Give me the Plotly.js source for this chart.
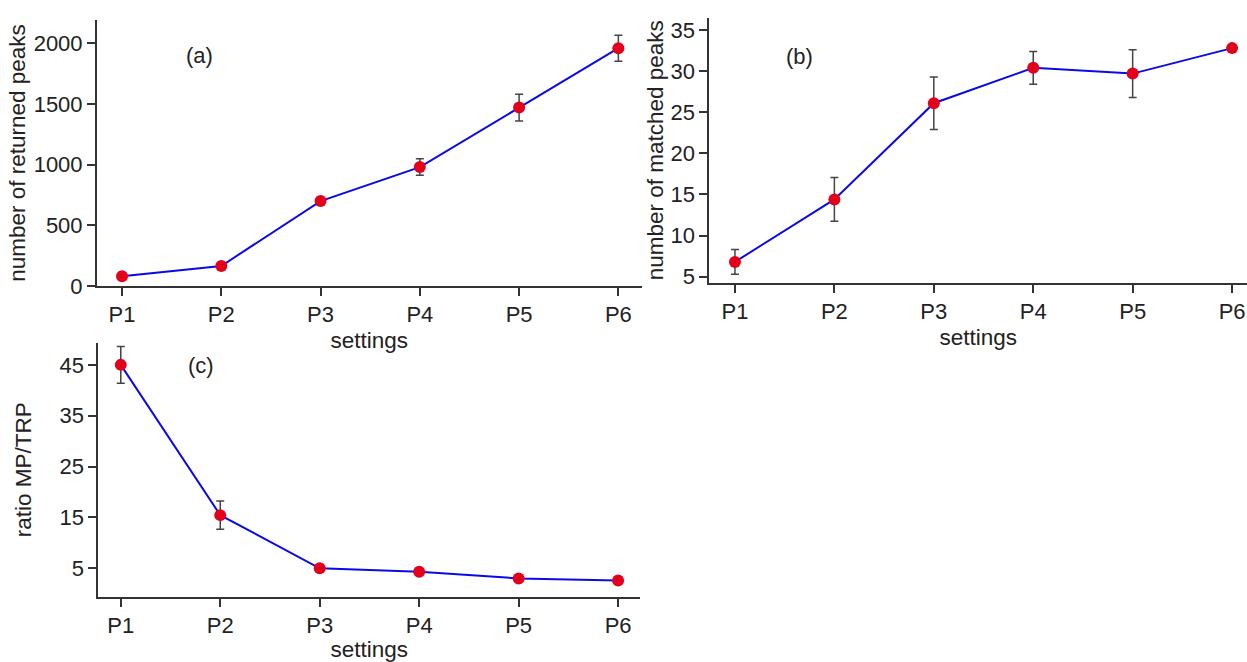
<!DOCTYPE html>
<html>
<head>
<meta charset="utf-8">
<script src="https://cdn.plot.ly/plotly-3.0.1.min.js"></script>
<style>html,body{margin:0;padding:0;background:#fff;}#chart{width:1247px;height:662px;}</style>
</head>
<body>
<div id="chart"></div>
<script>
// ---- data ----
const settings = ["P1", "P2", "P3", "P4", "P5", "P6"];
const returnedPeaks = [80, 165, 700, 980, 1470, 1960];
const returnedPeaksErr = [12, 15, 30, 68, 110, 107];
const matchedPeaks = [6.8, 14.4, 26.1, 30.4, 29.7, 32.8];
const matchedPeaksErr = [1.5, 2.65, 3.2, 2.0, 2.9, 0.3];
const ratioMpTrp = [45.0, 15.45, 5.0, 4.33, 3.0, 2.6];
const ratioMpTrpErr = [3.6, 2.8, 0.3, 0.3, 0.2, 0.2];

const W = 1247, H = 662;
const px = (a, b) => [a / W, b / W];
const py = (top, bottom) => [1 - bottom / H, 1 - top / H];

const FONT = "Liberation Sans, Arial, sans-serif";
const lineColor = "#0a0ae6";
const markerColor = "#e3001b";
const errColor = "#444444";

function trace(y, err, xa, ya) {
  return {
    x: settings.map((_, i) => i),
    y: y,
    xaxis: xa, yaxis: ya,
    type: "scatter",
    mode: "lines+markers",
    line: {color: lineColor, width: 2},
    marker: {color: markerColor, size: 12},
    error_y: {type: "data", array: err, visible: true, color: errColor, thickness: 1.5, width: 4},
    showlegend: false,
    hoverinfo: "x+y"
  };
}

const data = [
  trace(returnedPeaks, returnedPeaksErr, "x", "y"),
  trace(matchedPeaks, matchedPeaksErr, "x2", "y2"),
  trace(ratioMpTrp, ratioMpTrpErr, "x3", "y3")
];

const tickFont = {family: FONT, size: 22, color: "#222"};
const titleFont = {family: FONT, size: 22.5, color: "#222"};

function xAxis(domain, range, anchor) {
  return {
    domain: domain, range: range, anchor: anchor,
    tickmode: "array", tickvals: settings.map((_, i) => i), ticktext: settings,
    showline: true, linecolor: "#333", linewidth: 2,
    ticks: "outside", ticklen: 8, tickwidth: 2, tickcolor: "#333",
    showgrid: false, zeroline: false,
    tickfont: tickFont,
    title: {text: "settings", font: titleFont, standoff: 6},
    automargin: false
  };
}
function yAxis(domain, range, anchor, tickvals, title, standoff) {
  return {
    domain: domain, range: range, anchor: anchor,
    tickmode: "array", tickvals: tickvals,
    showline: true, linecolor: "#333", linewidth: 2,
    ticks: "outside", ticklen: 8, tickwidth: 2, tickcolor: "#333",
    showgrid: false, zeroline: false,
    tickfont: tickFont,
    title: {text: title, font: titleFont, standoff: standoff},
    automargin: false
  };
}

const layout = {
  width: W, height: H,
  margin: {l: 0, r: 0, t: 0, b: 0},
  paper_bgcolor: "#fff", plot_bgcolor: "#fff",
  font: {family: FONT},
  xaxis: xAxis(px(97, 641.7), [-0.252, 5.235], "y"),
  yaxis: yAxis(py(20, 286), [0, 2192], "x", [0, 500, 1000, 1500, 2000], "number of returned peaks", 2),
  xaxis2: xAxis(px(709.3, 1247), [-0.258, 5.15], "y2"),
  yaxis2: yAxis(py(17.7, 282.7), [4.27, 36.5], "x2", [5, 10, 15, 20, 25, 30, 35], "number of matched peaks", 1),
  xaxis3: xAxis(px(98.3, 640), [-0.226, 5.22], "y3"),
  yaxis3: yAxis(py(343, 596.7), [-0.59, 49.3], "x3", [5, 15, 25, 35, 45], "ratio MP/TRP", 22),
  annotations: [
    {text: "(a)", xref: "paper", yref: "paper", x: 184 / W, y: 1 - 41 / H, showarrow: false, font: {family: FONT, size: 22, color: "#222"}},
    {text: "(b)", xref: "paper", yref: "paper", x: 799 / W, y: 1 - 42 / H, showarrow: false, font: {family: FONT, size: 22, color: "#222"}},
    {text: "(c)", xref: "paper", yref: "paper", x: 186 / W, y: 1 - 365 / H, showarrow: false, font: {family: FONT, size: 22, color: "#222"}}
  ]
};

Plotly.newPlot("chart", data, layout, {displayModeBar: false, staticPlot: true});
</script>
</body>
</html>
